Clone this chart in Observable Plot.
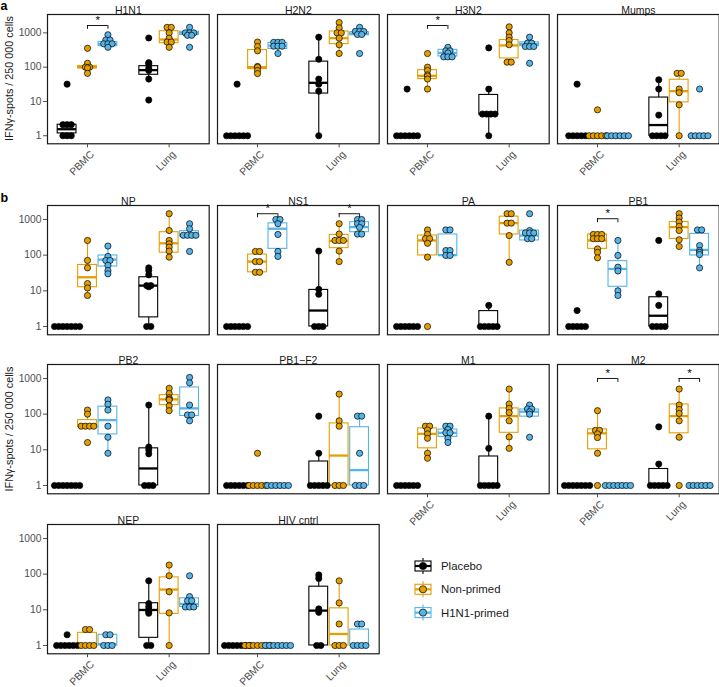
<!DOCTYPE html>
<html><head><meta charset="utf-8">
<script src="https://cdn.jsdelivr.net/npm/d3@7"></script>
<script src="https://cdn.jsdelivr.net/npm/@observablehq/plot@0.6"></script>
<style>
body{margin:0;background:#fff;}
#chart{position:relative;width:719px;height:687px;overflow:hidden;font-family:"Liberation Sans",Arial,sans-serif;background:#fff;}
#chart svg{position:absolute;overflow:visible;}
</style></head><body><div id="chart"></div>
<script>
// ---------- data ----------
const groups = ["Placebo", "Non-primed", "H1N1-primed"];
const groupColors = ["#000000", "#E69F00", "#56B4E9"];
const locations = ["PBMC", "Lung"];
const yTicks = [1, 10, 100, 1000];
const yTitle = "IFNγ-spots / 250 000 cells";

// each panel: 6 entries ordered PBMC (Placebo, Non-primed, H1N1-primed), Lung (same)
// entry: [dot values, box [lower whisker, q1, median, q3, upper whisker]]
const H1N1 = [
  [[32, 2.1, 2.1, 2.1, 1, 1, 1], [1, 1.17, 1.55, 2.1, 2.1]],
  [[355, 130, 100, 100, 95, 66], [92, 92, 100, 108, 130]],
  [[880, 620, 620, 480, 480, 480, 380], [380, 410, 470, 540, 620]],
  [[710, 135, 125, 95, 80, 45, 11], [43, 60, 82, 107, 138]],
  [[1450, 1450, 1000, 700, 540, 540, 380], [380, 500, 640, 1120, 1450]],
  [[1450, 1000, 1000, 1000, 850, 850, 380], [850, 870, 1000, 1080, 1450]]
];
const H2N2 = [
  [[32, 1, 1, 1, 1, 1, 1], [1, 1, 1, 1, 1]],
  [[540, 400, 300, 105, 100, 80, 65], [65, 88, 100, 316, 540]],
  [[530, 530, 530, 410, 410, 410, 250], [250, 340, 425, 510, 530]],
  [[750, 170, 45, 32, 20, 1], [1, 17, 35, 145, 750]],
  [[2000, 1400, 1000, 1000, 700, 450, 250], [250, 470, 700, 1100, 2000]],
  [[1450, 1100, 1100, 1100, 900, 900, 250], [850, 850, 950, 1050, 1450]]
];
const H3N2 = [
  [[23, 1, 1, 1, 1, 1, 1], [1, 1, 1, 1, 1]],
  [[250, 100, 80, 60, 55, 45, 23], [23, 45, 56, 82, 100]],
  [[380, 300, 300, 260, 200, 200, 200], [200, 205, 260, 320, 380]],
  [[365, 23, 4.3, 4.3, 4.3, 4.3, 1], [1, 4.1, 4.3, 15.5, 23]],
  [[1500, 1000, 750, 600, 450, 140, 140], [140, 180, 430, 620, 1500]],
  [[750, 500, 500, 400, 400, 400, 130], [400, 410, 475, 530, 750]]
];
const Mumps = [
  [[32, 1, 1, 1, 1, 1], [1, 1, 1, 1, 1]],
  [[5.7, 1, 1, 1, 1, 1], [1, 1, 1, 1, 1]],
  [[1, 1, 1, 1, 1, 1], [1, 1, 1, 1, 1]],
  [[43, 23, 4, 1, 1, 1, 1], [1, 1, 2.05, 13, 43]],
  [[66, 66, 23, 18, 8, 1], [1, 9.4, 20, 43, 66]],
  [[23, 1, 1, 1, 1, 1], [1, 1, 1, 1, 1]]
];
const NP = [
  [[1, 1, 1, 1, 1, 1, 1], [1, 1, 1, 1, 1]],
  [[258, 71, 44, 16, 12, 7.4], [7.4, 12.6, 24, 53, 258]],
  [[180, 92, 71, 71, 52, 37, 30], [30, 48, 75, 98, 180]],
  [[44, 37, 28, 14, 14, 13, 1, 1], [1, 1.8, 14, 24, 44]],
  [[1450, 490, 258, 208, 168, 130, 88], [88, 117, 215, 440, 1450]],
  [[760, 550, 360, 360, 360, 360, 127], [330, 330, 370, 470, 760]]
];
const NS1 = [
  [[1, 1, 1, 1, 1, 1], [1, 1, 1, 1, 1]],
  [[127, 127, 66, 66, 33, 33], [33, 33, 66, 104, 127]],
  [[1000, 1000, 760, 380, 127, 92], [92, 150, 550, 780, 1000]],
  [[130, 11, 8, 1, 1, 1], [1, 1, 2.8, 10.6, 130]],
  [[760, 390, 258, 258, 258, 130, 66], [66, 157, 250, 370, 760]],
  [[1000, 1000, 760, 760, 600, 390, 390], [390, 440, 610, 840, 1000]]
];
const PA = [
  [[1, 1, 1, 1, 1, 1], [1, 1, 1, 1, 1]],
  [[510, 380, 290, 290, 215, 88, 1], [88, 98, 258, 355, 510]],
  [[510, 510, 135, 135, 98, 98], [98, 98, 100, 380, 510]],
  [[3.9, 1, 1, 1, 1, 1], [1, 1, 1, 2.7, 3.9]],
  [[1450, 1450, 790, 790, 355, 63], [63, 380, 790, 1200, 1450]],
  [[1450, 490, 420, 420, 420, 290, 290], [258, 258, 355, 490, 490]]
];
const PB1 = [
  [[2.8, 1, 1, 1, 1, 1], [1, 1, 1, 1, 1]],
  [[380, 380, 380, 290, 290, 290, 150, 120, 84], [84, 150, 258, 380, 380]],
  [[258, 98, 46, 36, 10, 7.4], [7.4, 13, 41, 68, 258]],
  [[258, 8.2, 3.9, 1, 1, 1, 1], [1, 1, 2, 6.6, 8.2]],
  [[1450, 1100, 850, 640, 490, 270, 175], [175, 285, 610, 850, 1450]],
  [[510, 510, 186, 135, 120, 104, 44], [44, 98, 140, 395, 510]]
];
const PB2 = [
  [[1, 1, 1, 1, 1, 1, 1], [1, 1, 1, 1, 1]],
  [[130, 100, 46, 46, 46, 46, 16], [44, 44, 46, 68, 100]],
  [[250, 190, 130, 46, 22.5, 8], [8, 27, 68, 162, 250]],
  [[180, 12, 10, 7.7, 1, 1, 1], [1, 1, 3, 11, 180]],
  [[530, 380, 290, 260, 250, 170, 125], [125, 180, 260, 340, 530]],
  [[1070, 755, 180, 95, 95, 65], [65, 89, 145, 560, 1070]]
];
const PB1F2 = [
  [[1, 1, 1, 1, 1, 1], [1, 1, 1, 1, 1]],
  [[8, 1, 1, 1, 1, 1], [1, 1, 1, 1, 1]],
  [[1, 1, 1, 1, 1, 1], [1, 1, 1, 1, 1]],
  [[88, 8, 1, 1, 1, 1, 1], [1, 1, 1, 4.7, 8]],
  [[365, 65, 46, 1, 1, 1], [1, 1, 6.9, 55, 365]],
  [[88, 88, 8, 1, 1, 1], [1, 1, 2.7, 43, 88]]
];
const M1 = [
  [[1, 1, 1, 1, 1, 1], [1, 1, 1, 1, 1]],
  [[46, 46, 36, 28, 21, 8, 5.8], [5.8, 11, 28, 40, 46]],
  [[46, 46, 37, 30, 30, 21, 16], [16, 23, 30, 37, 46]],
  [[88, 11, 1, 1, 1, 1, 1], [1, 1, 1, 6.5, 88]],
  [[505, 192, 145, 110, 65, 23, 11], [11, 30, 88, 145, 505]],
  [[180, 140, 140, 117, 100, 22.5], [85, 85, 117, 135, 180]]
];
const M2 = [
  [[1, 1, 1, 1, 1, 1, 1], [1, 1, 1, 1, 1]],
  [[125, 35, 35, 28, 22, 8, 1], [8, 10.3, 29, 37.5, 125]],
  [[1, 1, 1, 1, 1, 1, 1], [1, 1, 1, 1, 1]],
  [[44, 4, 1, 1, 1, 1, 1], [1, 1, 1, 2.9, 4]],
  [[505, 180, 135, 105, 65, 22.5, 1], [22.5, 29, 88, 187, 505]],
  [[1, 1, 1, 1, 1, 1], [1, 1, 1, 1, 1]]
];
const NEP = [
  [[2, 1, 1, 1, 1, 1, 1], [1, 1, 1, 1, 1]],
  [[2.8, 2.8, 1, 1, 1, 1], [1, 1, 1, 2.26, 2.8]],
  [[2, 2, 1, 1, 1], [1, 1, 1.1, 2, 2]],
  [[65, 15, 12, 10, 9, 8, 1, 1], [1, 1.64, 9.9, 15.3, 65]],
  [[180, 90, 32, 8.2, 1], [1, 7.7, 37, 81, 180]],
  [[90, 23.5, 18, 18, 12, 12, 12], [12, 12, 14.6, 21, 23.5]]
];
const HIVcntrl = [
  [[1, 1, 1, 1, 1, 1, 1], [1, 1, 1, 1, 1]],
  [[1, 1, 1, 1, 1, 1, 1], [1, 1, 1, 1, 1]],
  [[1, 1, 1, 1, 1, 1, 1], [1, 1, 1, 1, 1]],
  [[95, 76, 10.6, 8.5, 1, 1], [1, 1, 9.5, 44.5, 95]],
  [[65, 15.6, 4, 1, 1, 1], [1, 1, 2.1, 11, 65]],
  [[4, 4, 1, 1, 1, 1], [1, 1, 1, 2.8, 4]]
];

const panelTitles = ["H1N1", "H2N2", "H3N2", "Mumps", "NP", "NS1", "PA", "PB1", "PB2", "PB1−F2", "M1", "M2", "NEP", "HIV cntrl"];
const panelSeries = [H1N1, H2N2, H3N2, Mumps, NP, NS1, PA, PB1, PB2, PB1F2, M1, M2, NEP, HIVcntrl];
const xAxisPanels = ["H1N1", "H2N2", "H3N2", "Mumps", "M1", "M2", "NEP", "HIV cntrl"];
// significance brackets (Non-primed vs H1N1-primed)
const brackets = [
  ["H1N1", "PBMC", 1640], ["H3N2", "PBMC", 1640],
  ["NS1", "PBMC", 1450], ["NS1", "Lung", 1450],
  ["PB1", "PBMC", 1050], ["M2", "PBMC", 1000], ["M2", "Lung", 1000]
];

// ---------- layout ----------
const W = 719, H = 687;
const colLefts = [47.3, 217.1, 386.9, 556.7];
const rowTops = [14, 205, 364.3, 524];
const panelW = 161.7, panelH = 129.3;
const yDomainA = [0.583, 3436], yDomainB = [0.585, 2466];
const xDomain = [0.51, 2.49];
const mL = 32, mR = 6, mT = 18, mB = 44;
const unitPx = panelW / (xDomain[1] - xDomain[0]);
const stackStep = 4.2 / unitPx;
const halfBox = 9.4 / unitPx;
const font = "Liberation Sans, Arial, sans-serif";
const xTickValues = [1, 2];

const chart = document.getElementById("chart");

panelTitles.forEach((title, i) => {
  const row = Math.floor(i / 4), col = i % 4;
  const series = panelSeries[i];
  const boxes = [], dots = [];
  series.forEach(([vals, box], k) => {
    const loc = Math.floor(k / 3), g = k % 3;
    const pos = loc + 1 + (g - 1) * 0.25;
    const color = groupColors[g];
    boxes.push({pos, xa: pos - halfBox, xb: pos + halfBox, lo: box[0], q1: box[1], med: box[2], q3: box[3], hi: box[4], color});
    const counts = d3.rollup(vals, v => v.length, d => d);
    for (const [v, n] of counts) {
      for (let j = 0; j < n; j++) dots.push({x: pos + (j - (n - 1) / 2) * stackStep, y: v, color});
    }
  });
  const bk = brackets.filter(b => b[0] === title).map(b => {
    const loc = locations.indexOf(b[1]);
    return {xa: loc + 1, xb: loc + 1.25, xm: loc + 1.125, y: b[2], y2: b[2] / Math.pow(10, 4 / 35.7)};
  });
  const legs = bk.flatMap(b => [{x: b.xa, y: b.y, y2: b.y2}, {x: b.xb, y: b.y, y2: b.y2}]);

  const marks = [
    Plot.ruleX(boxes, {x: "pos", y1: "q3", y2: "hi", stroke: "color", strokeWidth: 1.1}),
    Plot.ruleX(boxes, {x: "pos", y1: "lo", y2: "q1", stroke: "color", strokeWidth: 1.1}),
    Plot.rect(boxes, {x1: "xa", x2: "xb", y1: "q1", y2: "q3", fill: "white", stroke: "color", strokeWidth: 1.1}),
    Plot.ruleY(boxes, {y: "med", x1: "xa", x2: "xb", stroke: "color", strokeWidth: 2.3}),
    Plot.dot(dots, {x: "x", y: "y", r: 3.1, fill: "color", stroke: "black", strokeWidth: 0.7}),
    Plot.ruleY(bk, {y: "y", x1: "xa", x2: "xb", stroke: "black", strokeWidth: 0.9}),
    Plot.ruleX(legs, {x: "x", y1: "y", y2: "y2", stroke: "black", strokeWidth: 0.9}),
    Plot.text(bk, {x: "xm", y: "y", text: () => "*", dy: -5, fontSize: 11.5, fill: "black"}),
    Plot.frame({stroke: "#1a1a1a", strokeWidth: 1.2}),
    Plot.text([title], {text: d => d, frameAnchor: "top", dy: -8, fontSize: 10.5, fill: "#1a1a1a"})
  ];
  if (col === 0) marks.push(Plot.axisY(yTicks, {tickFormat: d => String(d), tickSize: 4, tickPadding: 2, fontSize: 10.3, label: null}));
  if (xAxisPanels.includes(title)) {
    marks.push(Plot.axisX(xTickValues, {tickFormat: () => "", tickSize: 4, label: null}));
    marks.push(Plot.text(xTickValues, {
      x: d => d, frameAnchor: "bottom", text: d => locations[d - 1],
      rotate: -45, textAnchor: "end", lineAnchor: "top", dy: 6, dx: 2,
      fontSize: 10.3, fill: "#4d4d4d"
    }));
  }

  const svg = Plot.plot({
    width: panelW + mL + mR, height: panelH + mT + mB,
    marginLeft: mL, marginRight: mR, marginTop: mT, marginBottom: mB,
    x: {type: "linear", domain: xDomain, axis: null},
    y: {type: "log", domain: row === 0 ? yDomainA : yDomainB, axis: null},
    color: {type: "identity"},
    style: {fontFamily: font, fontSize: "10px", color: "#4d4d4d", background: "transparent", overflow: "visible"},
    marks
  });
  svg.style.left = (colLefts[col] - mL) + "px";
  svg.style.top = (rowTops[row] - mT) + "px";
  chart.append(svg);
});

// ---------- overlay: panel tags, y titles, legend ----------
const overlay = d3.select(chart).append("svg")
  .attr("width", W).attr("height", H)
  .style("left", "0px").style("top", "0px")
  .attr("font-family", font);
overlay.append("text").attr("x", 0.5).attr("y", 10).attr("font-weight", "bold").attr("font-size", 12.5).text("a");
overlay.append("text").attr("x", 0.5).attr("y", 201.5).attr("font-weight", "bold").attr("font-size", 12.5).text("b");
[78.5, 429].forEach(cy => {
  overlay.append("text").attr("transform", `translate(8.5,${cy}) rotate(-90)`)
    .attr("text-anchor", "middle").attr("dominant-baseline", "central")
    .attr("font-size", 10.8).attr("fill", "#1a1a1a").text(yTitle);
});
groups.forEach((g, i) => {
  const cx = 423, cy = 566 + i * 23.3;
  const gg = overlay.append("g").attr("transform", `translate(${cx},${cy})`);
  gg.append("line").attr("y1", -8).attr("y2", 8).attr("stroke", groupColors[i]).attr("stroke-width", 1.1);
  gg.append("rect").attr("x", -8).attr("y", -5).attr("width", 16).attr("height", 10)
    .attr("fill", "white").attr("stroke", groupColors[i]).attr("stroke-width", 1.1);
  gg.append("line").attr("x1", -8).attr("x2", 8).attr("stroke", groupColors[i]).attr("stroke-width", 2.2);
  gg.append("circle").attr("r", 3.6).attr("fill", groupColors[i]).attr("stroke", "black").attr("stroke-width", 0.7);
  overlay.append("text").attr("x", 441).attr("y", cy).attr("dominant-baseline", "central")
    .attr("font-size", 11.4).attr("fill", "#1a1a1a").text(g);
});
</script></body></html>
